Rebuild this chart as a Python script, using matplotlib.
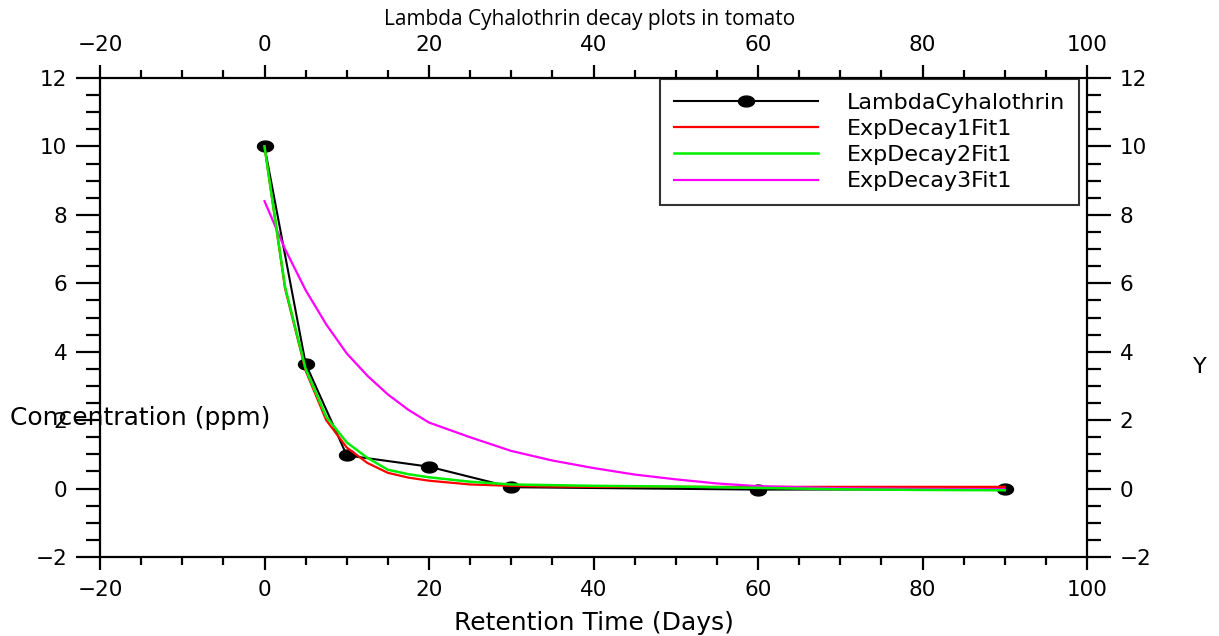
import numpy as np
import matplotlib
matplotlib.use("Agg")
import matplotlib.pyplot as plt
from matplotlib.path import Path
from matplotlib.ticker import MultipleLocator

# Measured residues
days = [0, 5, 10, 20, 30, 60, 90]
residue = [10.0, 3.65, 0.97, 0.64, 0.04, -0.03, -0.02]

# Fitted curves (sampled)
fit_x = [0, 2.5, 5, 7.5, 10, 12.5, 15, 17.5, 20, 25, 30, 35, 40, 45, 50, 55, 60, 70, 80, 90]
fit1_y = [10.0, 5.85, 3.45, 2.0, 1.2, 0.75, 0.46, 0.32, 0.23, 0.12, 0.08, 0.06, 0.05, 0.05, 0.05,
          0.05, 0.05, 0.05, 0.05, 0.05]
fit2_y = [10.0, 5.9, 3.5, 2.1, 1.35, 0.9, 0.55, 0.42, 0.33, 0.2, 0.12, 0.1, 0.08, 0.07, 0.06,
          0.04, 0.02, -0.02, -0.04, -0.05]
fit3_y = [8.4, 7.0, 5.8, 4.8, 3.95, 3.3, 2.75, 2.3, 1.93, 1.5, 1.1, 0.82, 0.6, 0.41, 0.27,
          0.15, 0.07, 0.01, -0.01, -0.02]

title = "Lambda Cyhalothrin decay plots in tomato"
series_names = ["LambdaCyhalothrin", "ExpDecay1Fit1", "ExpDecay2Fit1", "ExpDecay3Fit1"]

plt.rcParams["font.family"] = ["DejaVu Sans"]

fig = plt.figure(figsize=(12.19, 6.36), dpi=100)
ax = fig.add_axes([100 / 1219, 1 - 557 / 636, 987 / 1219, 479 / 636])

# wide elliptical marker
t = np.linspace(0, 2 * np.pi, 60)
ellipse = Path(np.column_stack([np.cos(t), 0.68 * np.sin(t)]), closed=True)

ax.plot(days, residue, color="black", lw=1.5, marker=ellipse, ms=11.5,
        label=series_names[0], zorder=3)
ax.plot(fit_x, fit1_y, color="#ff0000", lw=1.6, label=series_names[1], zorder=4)
ax.plot(fit_x, fit2_y, color="#00ee00", lw=1.8, label=series_names[2], zorder=5)
ax.plot(fit_x, fit3_y, color="#ff00ff", lw=1.6, label=series_names[3], zorder=4)

ax.set_xlim(-20, 100)
ax.set_ylim(-2, 12)

ax.xaxis.set_major_locator(MultipleLocator(20))
ax.xaxis.set_minor_locator(MultipleLocator(5))
ax.yaxis.set_major_locator(MultipleLocator(2))
ax.yaxis.set_minor_locator(MultipleLocator(0.5))

for s in ax.spines.values():
    s.set_linewidth(1.6)

ax.tick_params(axis="both", which="major", direction="out", width=1.6, labelsize=15.5,
               top=True, right=True, labeltop=True, labelright=True)
ax.tick_params(axis="x", which="major", length=9.5, pad=7)
ax.tick_params(axis="x", which="minor", length=5.5, width=1.6, top=True, direction="out")
ax.tick_params(axis="y", which="major", length=17.5, pad=6)
ax.tick_params(axis="y", which="minor", length=10, width=1.6, right=True, direction="out")

ax.set_xlabel("Retention Time (Days)", fontsize=18, labelpad=8)
fig.text(10 / 1219, 1 - 418 / 636, "Concentration (ppm)", fontsize=18,
         ha="left", va="center")
fig.text(1200 / 1219, 1 - 367 / 636, "Y", fontsize=16, ha="center", va="center")
fig.text(590 / 1219, 1 - 19 / 636, title, fontsize=15, ha="center", va="center",
         family=["Open Sans", "DejaVu Sans"])

leg = ax.legend(loc="upper right", bbox_to_anchor=(0.9915, 0.997), fontsize=16,
                frameon=True, fancybox=False, edgecolor="black", handlelength=6.5,
                handletextpad=1.3, borderpad=0.6, labelspacing=0.28, borderaxespad=0)
leg.get_frame().set_linewidth(1.5)

fig.savefig("out.png", dpi=100)
